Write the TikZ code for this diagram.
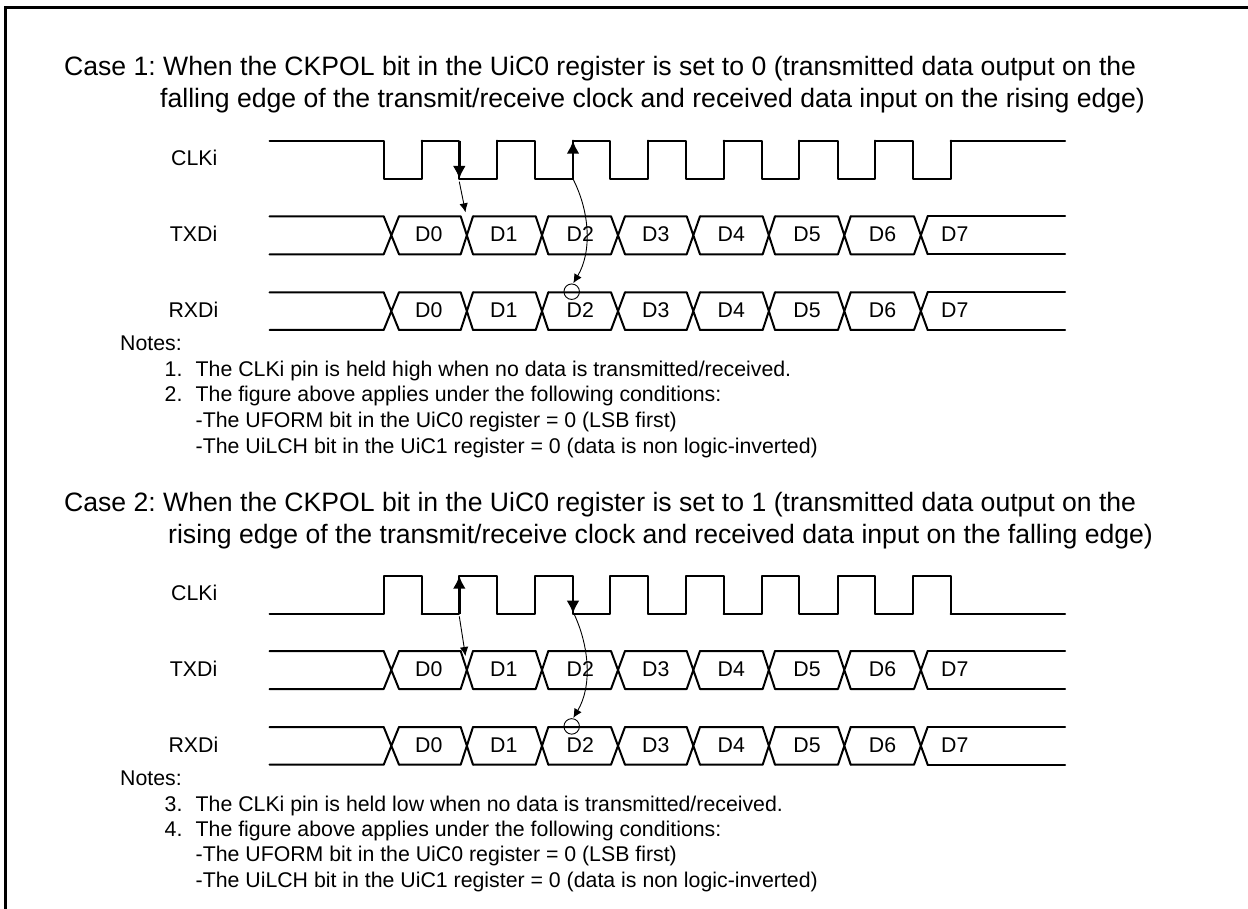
\documentclass[tikz,border=0pt]{standalone}
\usepackage{fontspec}
\setmainfont{Liberation Sans}
\usetikzlibrary{arrows.meta}

\def\WaveL{269.5}
\def\WaveR{1065}
\def\WaveW{2pt}

\tikzset{
  wave/.style={line width=\WaveW, line cap=round, line join=round},
  edgearrow/.style={line width=2.8pt, -{Latex[length=13pt,width=13pt]}},
  thinarrow/.style={line width=0.9pt, -{Latex[length=9pt,width=8.5pt]}},
  sample/.style={draw, circle, line width=0.9pt, minimum size=15.5pt, inner sep=0pt},
  title/.style={anchor=base west, inner sep=0pt, font=\fontsize{26.6}{30}\selectfont},
  note/.style={anchor=base west, inner sep=0pt, font=\fontsize{21.3}{26}\selectfont},
  sig/.style={anchor=base east, inner sep=0pt, font=\fontsize{21.3}{26}\selectfont},
  bit/.style={anchor=base, inner sep=0pt, font=\fontsize{21.3}{26}\selectfont},
}

\begin{document}
\frenchspacing
\begin{tikzpicture}[x=1pt,y=-1pt]
  \useasboundingbox (0,0) rectangle (1248,909);

  % --- Frame ---
  \draw[line width=3pt] (5,909) -- (5,8) -- (1248,8);

  % --- Titles ---
  \node[title] (title1a) at (64,76) {Case 1: When the CKPOL bit in the UiC0 register is set to 0 (transmitted data output on the};
  \node[title] (title1b) at (160,108) {falling edge of the transmit/receive clock and received data input on the rising edge)};
  \node[title] (title2a) at (64,511) {Case 2: When the CKPOL bit in the UiC0 register is set to 1 (transmitted data output on the};
  \node[title] (title2b) at (168,543) {rising edge of the transmit/receive clock and received data input on the falling edge)};

  % --- Both timing charts ---
  \foreach \Case/\Off/\Rest/\Puls/\TipA/\FromB in {1/0/140.7/179/212.3/179, 2/434.7/179/141/221.3/177}{
  \begin{scope}[shift={(0,\Off)}]
    \node[sig] (clk\Case) at (217.5,165.3) {CLKi};
    \node[sig] (txd\Case) at (217.5,241.7) {TXDi};
    \node[sig] (rxd\Case) at (218.5,318) {RXDi};

    % clock
    \foreach \f/\r [remember=\r as \p (initially \WaveL)] in {383.7/421.7, 459.3/497, 535/573, 610.3/648, 686/723.5, 762/799.3, 837.5/875, 913/950.7}{
      \draw[wave] (\p,\Rest) -- (\f,\Rest) -- (\f,\Puls) -- (\r,\Puls) -- (\r,\Rest);
    }
    \draw[wave] (950.7,\Rest) -- (\WaveR,\Rest);

    % data lines
    \foreach \t/\b in {216.3/254.3, 292.3/330}{
      \foreach \l/\r [remember=\r as \p (initially \WaveL)] in {383.7/399, 460.7/473, 535.7/548.3, 611/625, 686.7/700, 762.7/775, 838/850.7, 914/927.7}{
        \draw[wave] (\p,\t) -- (\l,\t) -- (\r,\b) (\p,\b) -- (\l,\b) -- (\r,\t);
      }
      \draw[wave] (927.7,\t) -- (\WaveR,\t) (927.7,\b) -- (\WaveR,\b);
    }
    \foreach \n/\x in {0/428.8, 1/503.8, 2/580.3, 3/655.8, 4/731.3, 5/807, 6/882.5, 7/954.8}{
      \node[bit] (tx\Case d\n) at (\x,241.7) {D\n};
      \node[bit] (rx\Case d\n) at (\x,318) {D\n};
    }

    % arrows
    \coordinate (outtop\Case) at (459.3,\Rest);
    \coordinate (outbot\Case) at (459.3,\Puls);
    \coordinate (intop\Case) at (573,\Puls);
    \coordinate (inbot\Case) at (573,\Rest);
    \coordinate (outfrom\Case) at (459.3,181.7);
    \coordinate (outto\Case) at (465.5,\TipA);
    \coordinate (infrom\Case) at (573,\FromB);
    \coordinate (into\Case) at (573.3,283.2);
    \draw[edgearrow] (outtop\Case) -- (outbot\Case);
    \draw[edgearrow] (intop\Case) -- (inbot\Case);
    \draw[thinarrow] (outfrom\Case) -- (outto\Case);
    \draw[thinarrow] (infrom\Case) .. controls (590,212) and (592,252) .. (into\Case);
    \node[sample] (smp\Case) at (571.7,291.7) {};

    % notes
    \node[note] (notes\Case) at (120,350.7) {Notes:};
    \node[note] (cond\Case) at (195.5,427) {-The UFORM bit in the UiC0 register = 0 (LSB first)};
    \node[note] (inv\Case) at (195.5,453) {-The UiLCH bit in the UiC1 register = 0 (data is non logic-inverted)};
  \end{scope}
  }

  \node[note] (num1) at (164.5,376.5) {1.};
  \node[note] (item1) at (195.5,376.5) {The CLKi pin is held high when no data is transmitted/received.};
  \node[note] (num2) at (164.5,401.5) {2.};
  \node[note] (item2) at (195.5,401.5) {The figure above applies under the following conditions:};
  \node[note] (num3) at (164.5,811.5) {3.};
  \node[note] (item3) at (195.5,811.5) {The CLKi pin is held low when no data is transmitted/received.};
  \node[note] (num4) at (164.5,836) {4.};
  \node[note] (item4) at (195.5,836) {The figure above applies under the following conditions:};
\end{tikzpicture}
\end{document}
